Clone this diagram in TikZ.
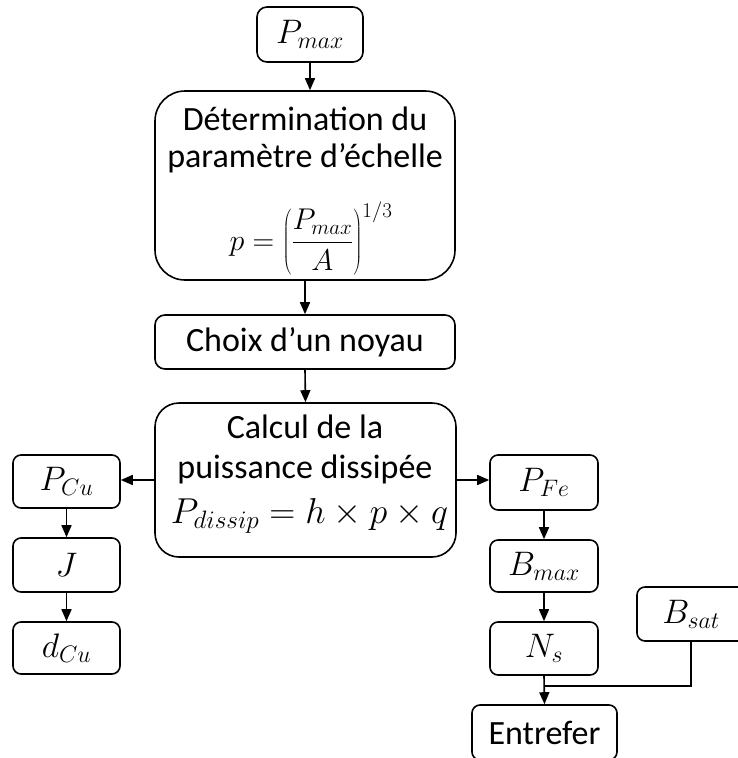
\RequirePackage{fix-cm}
\documentclass[tikz,border=0pt]{standalone}
\usepackage[no-math]{fontspec}
\setmainfont{Carlito}
\usetikzlibrary{arrows.meta}
\tikzset{
  box/.style={draw, line width=1.6pt, inner sep=0pt, align=center},
  bigtxt/.style={font=\fontsize{34}{40}\selectfont},
  txt/.style={font=\fontsize{34}{40}\selectfont, anchor=base, inner sep=0pt},
  conn/.style={line width=1.6pt, -{Triangle[length=12pt,width=10pt]}},
  plain/.style={line width=1.6pt}
}
\begin{document}
\begin{tikzpicture}[x=1pt,y=-1pt]
\useasboundingbox (0,0) rectangle (737,758);
% boxes
\node[box, bigtxt, rounded corners=10pt, minimum width=106pt, minimum height=55pt] (pmax) at (310,34.5) {$P_{max}$};
\node[box, rounded corners=30pt, minimum width=300pt, minimum height=189pt] (det) at (305,185.5) {};
\node[box, bigtxt, rounded corners=10pt, minimum width=300pt, minimum height=54pt] (choix) at (305,342) {Choix d’un noyau};
\node[box, rounded corners=24pt, minimum width=301pt, minimum height=154pt] (calc) at (305.5,480) {};
\node[box, bigtxt, rounded corners=8pt, minimum width=107pt, minimum height=53pt] (pcu) at (66.5,481.5) {$P_{Cu}$};
\node[box, bigtxt, rounded corners=8pt, minimum width=107pt, minimum height=54pt] (j) at (66.5,565) {$J$};
\node[box, bigtxt, rounded corners=8pt, minimum width=107pt, minimum height=52pt] (dcu) at (66.5,648) {$d_{Cu}$};
\node[box, bigtxt, rounded corners=8pt, minimum width=108pt, minimum height=55pt] (pfe) at (544,482.5) {$P_{Fe}$};
\node[box, bigtxt, rounded corners=8pt, minimum width=108pt, minimum height=52pt] (bmax) at (544,566) {$B_{max}$};
\node[box, bigtxt, rounded corners=8pt, minimum width=108pt, minimum height=53pt] (ns) at (544,648.5) {$N_s$};
\node[box, bigtxt, rounded corners=8pt, minimum width=145pt, minimum height=55pt] (entrefer) at (544.5,732.5) {Entrefer};
\node[box, rounded corners=8pt, minimum width=116pt, minimum height=54pt] (bsat) at (695,614) {};
\node[bigtxt, inner sep=0pt] (bsattxt) at (691,614) {$B_{sat}$};
% texts inside the big boxes
\node[txt] (det1) at (305,130) {D\'etermination du};
\node[txt] (det2) at (305,167) {param\`etre d’\'echelle};
\node[txt, font=\fontsize{30}{36}\selectfont] (det3) at (311,250) {$\displaystyle p=\left(\frac{P_{max}}{A}\right)^{1/3}$};
\node[txt] (calc1) at (305,438) {Calcul de la};
\node[txt] (calc2) at (305,478) {puissance dissip\'ee};
\node[txt, font=\fontsize{36}{42}\selectfont] (calc3) at (309.5,523) {$P_{dissip}=h\times p\times q$};
% connectors
\coordinate (jn) at (544,686);
\coordinate (bsatfoot) at (691,641);
\draw[conn] (pmax.south) -- (pmax.south |- det.north);
\draw[conn] (det.south) -- (choix.north);
\draw[conn] (choix.south) -- (calc.north);
\draw[conn] (calc.west) -- (calc.west -| pcu.east);
\draw[conn] (calc.east) -- (calc.east -| pfe.west);
\draw[conn] (pcu.south) -- (j.north);
\draw[conn] (j.south) -- (dcu.north);
\draw[conn] (pfe.south) -- (bmax.north);
\draw[conn] (bmax.south) -- (ns.north);
\draw[conn] (ns.south) -- (entrefer.north);
\draw[plain] (bsatfoot) |- (jn);
\end{tikzpicture}
\end{document}
